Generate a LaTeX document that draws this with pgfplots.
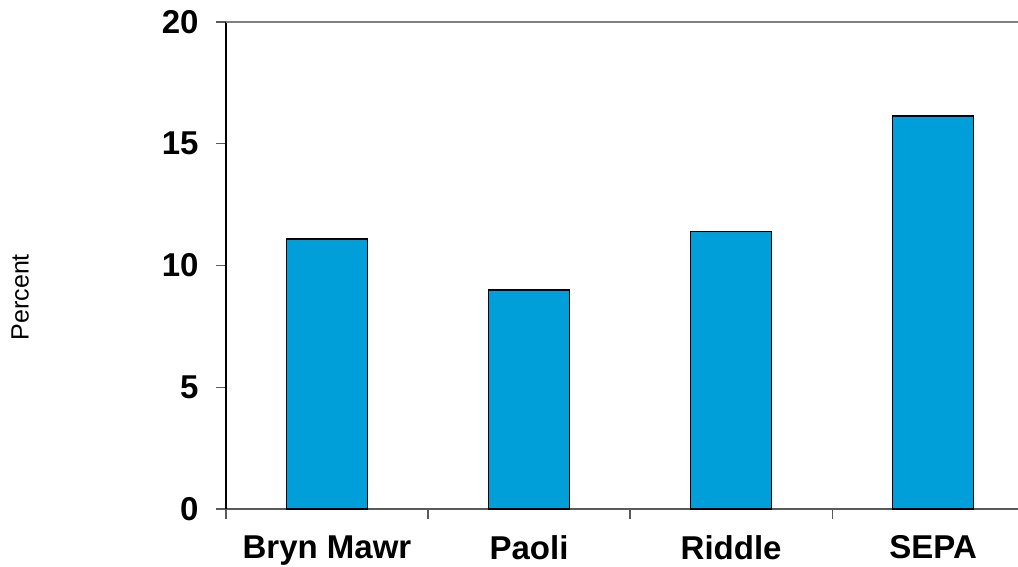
\documentclass[border=0pt]{standalone}
\usepackage{pgfplots}
\pgfplotsset{compat=1.18}
\usepackage{fontspec}
\setmainfont{Liberation Sans}
\definecolor{barblue}{RGB}{0,159,218}
\definecolor{axisgray}{RGB}{90,90,90}
\begin{document}
\begin{tikzpicture}[x=1pt,y=1pt]
\useasboundingbox (0,0) rectangle (1018,567);
\begin{axis}[
  at={(226pt,58pt)}, anchor=south west,
  scale only axis, width=792pt, height=487pt,
  xmin=-0.5, xmax=3.42, ymin=0, ymax=20,
  axis x line=bottom, axis y line=left,
  axis line style={-},
  x axis line style={axisgray, line width=1.2pt},
  y axis line style={black, line width=1.2pt},
  ytick={0,5,10,15,20},
  xtick={-0.5,0.5,1.5,2.5},
  xticklabels={},
  extra x ticks={0,1,2,3},
  extra x tick labels={Bryn Mawr,Paoli,Riddle,SEPA},
  extra x tick style={major tick length=0pt, tick style={draw=none}},
  tick align=outside,
  major tick length=10pt,
  tick style={axisgray, line width=1.2pt},
  /pgf/number format/assume math mode=true,
  ticklabel style={font=\bfseries\fontsize{33}{33}\selectfont},
  yticklabel style={xshift=-14pt},
  xticklabel style={yshift=-23pt},
  ylabel={Percent},
  ylabel style={at={(axis description cs:-0.260,0.435)}, anchor=center, rotate=0, font=\fontsize{25}{25}\selectfont},
  clip=false,
]
\addplot[ybar, bar width=81pt, bar shift=0pt, fill=barblue, draw=black, line width=1.6pt]
  coordinates {(0,11.1) (1,9.0) (2,11.4) (3,16.15)};
\draw[gray, line width=1.6pt] (rel axis cs:0,1) -- (rel axis cs:1,1);
\end{axis}
\end{tikzpicture}
\end{document}
